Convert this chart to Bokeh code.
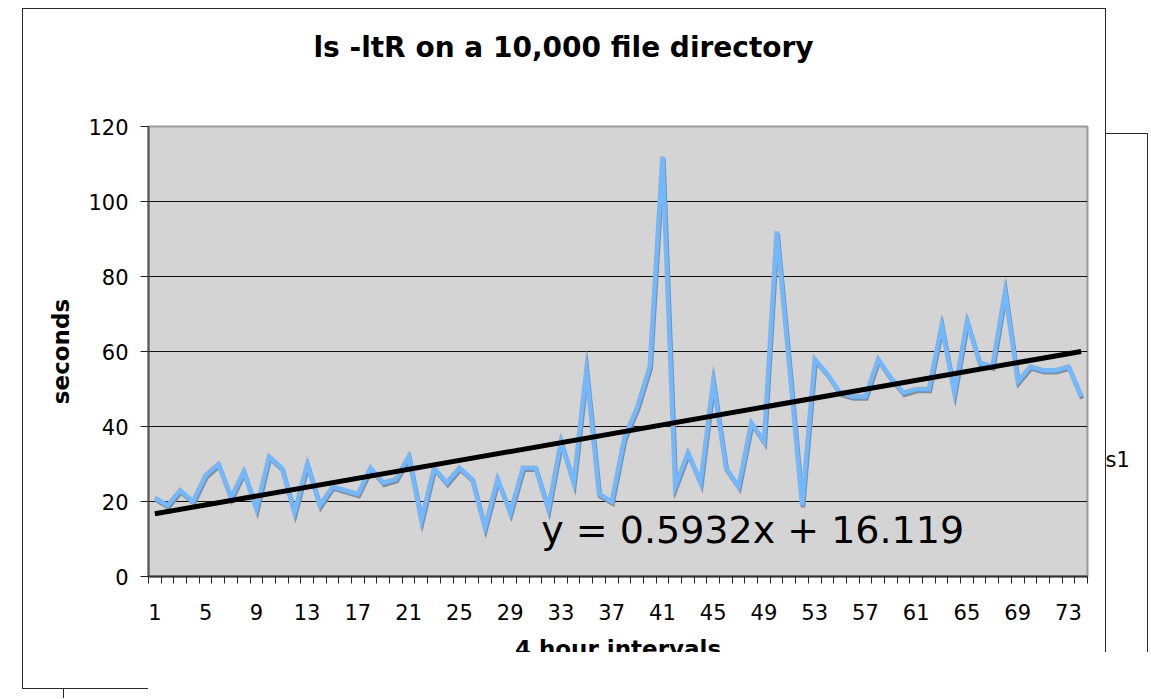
from bokeh.plotting import figure
from bokeh.models import (FixedTicker, Label, ColumnDataSource, Range1d, LinearAxis, Title)
from bokeh.transform import dodge
from bokeh.embed import file_html
from bokeh.resources import INLINE

# ---------------- data ----------------
intervals = list(range(1, 75))
seconds = [21, 19, 23, 20, 27, 30, 21, 28, 18, 32,
           29, 17, 30, 19, 24, 23, 22, 29, 25, 26,
           32, 15, 29, 25, 29, 26, 13, 26, 17, 29,
           29, 18, 36, 25, 55, 22, 20, 37, 45, 56,
           112, 24, 33, 25, 52, 29, 24, 41, 36, 92,
           56, 19, 58, 54, 49, 48, 48, 58, 53, 49,
           50, 50, 67, 49, 68, 57, 56, 76, 52, 56,
           55, 55, 56, 48]
trend_slope = 0.5932
trend_intercept = 16.119
trend_text = "y = 0.5932x + 16.119"
title_text = "ls -ltR on a 10,000 file directory"
y_title = "seconds"
x_title = "4 hour intervals"
y_ticks = [0, 20, 40, 60, 80, 100, 120]
grid_ticks = [20, 40, 60, 80, 100]
x_label_ticks = list(range(1, 75, 4))
legend_fragment = "s1"          # what remains visible of the legend entry "Series1"
legend_row_y = 31               # vertical position of that legend entry (data units)

trend_x = [intervals[0], intervals[-1]]
trend_y = [trend_slope * v + trend_intercept for v in trend_x]

src = ColumnDataSource(dict(x=intervals, y=seconds))
tsrc = ColumnDataSource(dict(x=trend_x, y=trend_y))

FONT = "DejaVu Sans"
LINE = "#2a2a2a"

# thin chart border / legend box fragment (drawn as CSS background lines), and the
# cropped bottom-right region of the original screenshot (CSS clip-path)
def hline(x, y, w):
    return f"linear-gradient({LINE},{LINE}) {x}px {y}px / {w}px 1px no-repeat"

def vline(x, y, h):
    return f"linear-gradient({LINE},{LINE}) {x}px {y}px / 1px {h}px no-repeat"

css_lines = ", ".join([
    hline(22, 8, 1084),     # border top
    vline(22, 8, 681),      # border left
    vline(1105, 8, 681),    # border right
    hline(22, 688, 1084),   # border bottom
    hline(1105, 133, 42),   # legend top
    vline(1147, 133, 600),  # legend right
    vline(63, 688, 20),     # small tick below
])

p = figure(width=1150, height=698, output_backend="svg", toolbar_location=None,
           x_range=Range1d(0.5, 74.5), y_range=Range1d(0, 120),
           min_border_left=148, min_border_right=63, min_border_top=126,
           min_border_bottom=122)
p.styles = {
    "background": css_lines + ", white",
    "clip-path": "polygon(0 0, 100% 0, 100% 652px, 148px 652px, 148px 100%, 0 100%)",
}
p.border_fill_color = None
p.background_fill_color = "#D4D4D4"
p.outline_line_color = "#9A9A9A"
p.outline_line_width = 2
p.title.visible = False

p.xgrid.visible = False
p.ygrid.ticker = FixedTicker(ticks=grid_ticks)
p.ygrid.grid_line_color = "#111111"
p.ygrid.grid_line_width = 1

p.yaxis.ticker = FixedTicker(ticks=y_ticks)
p.yaxis.axis_line_color = "#555555"
p.yaxis.axis_line_width = 2
p.yaxis.major_tick_line_color = "#222222"
p.yaxis.major_tick_out = 8
p.yaxis.major_tick_in = 0
p.yaxis.minor_tick_line_color = None
p.yaxis.major_label_standoff = 12
p.yaxis.major_label_text_font = FONT
p.yaxis.major_label_text_font_size = "21px"
p.yaxis.major_label_text_color = "black"
p.yaxis.axis_label = y_title
p.yaxis.axis_label_text_font = FONT
p.yaxis.axis_label_text_font_style = "bold"
p.yaxis.axis_label_text_font_size = "23px"
p.yaxis.axis_label_standoff = 11
p.yaxis.axis_label_text_color = "black"

p.xaxis.ticker = FixedTicker(ticks=x_label_ticks,
                             minor_ticks=[v - 0.5 for v in intervals] + [intervals[-1] + 0.5])
p.xaxis.axis_line_color = "#333333"
p.xaxis.axis_line_width = 2
p.xaxis.major_tick_line_color = None
p.xaxis.major_tick_out = 0
p.xaxis.major_tick_in = 0
p.xaxis.minor_tick_line_color = "#222222"
p.xaxis.minor_tick_out = 7
p.xaxis.minor_tick_in = 0
p.xaxis.major_label_standoff = 20
p.xaxis.major_label_text_font = FONT
p.xaxis.major_label_text_font_size = "21px"
p.xaxis.major_label_text_color = "black"
p.xaxis.axis_label = x_title
p.xaxis.axis_label_text_font = FONT
p.xaxis.axis_label_text_font_style = "bold"
p.xaxis.axis_label_text_font_size = "23px"
p.xaxis.axis_label_standoff = 13
p.xaxis.axis_label_text_color = "black"

# invisible spacer axis above the plot area (keeps the title up where it belongs)
spacer_axis = LinearAxis(ticker=FixedTicker(ticks=[37]), major_label_overrides={37: ""},
                         axis_line_color=None, major_tick_line_color=None,
                         minor_tick_line_color=None, major_tick_out=58, major_tick_in=0,
                         minor_tick_out=0, major_label_standoff=0,
                         major_label_text_color=None)
p.add_layout(spacer_axis, "above")
p.add_layout(Title(text=title_text, text_font=FONT, text_font_style="bold",
                   text_font_size="28px", text_color="black", align="left",
                   offset=165, standoff=10), "above")

# legend fragment, rendered as a tick label of an otherwise invisible right axis
legend_axis = LinearAxis(ticker=FixedTicker(ticks=[legend_row_y]),
                         major_label_overrides={legend_row_y: legend_fragment},
                         axis_line_color=None, major_tick_line_color=None,
                         minor_tick_line_color=None, major_label_standoff=12,
                         major_label_text_font=FONT, major_label_text_font_size="21px",
                         major_label_text_color="black")
p.add_layout(legend_axis, "right")

# series: soft shadow + line, then the linear trend
p.line(x=dodge("x", 0.08, range=p.x_range), y=dodge("y", -0.55, range=p.y_range),
       source=src, line_color="#8C8C8C", line_width=4.5, line_join="miter")
p.line(x="x", y="y", source=src, line_color="#72B8FF", line_width=4.5, line_join="miter")
p.line(x="x", y="y", source=tsrc, line_color="black", line_width=5)

p.add_layout(Label(x=31.45, y=12.5, text=trend_text, text_font=FONT,
                   text_font_size="38px", text_color="black",
                   text_baseline="middle", text_align="left"))

open("out.html", "w").write(file_html(p, INLINE))
